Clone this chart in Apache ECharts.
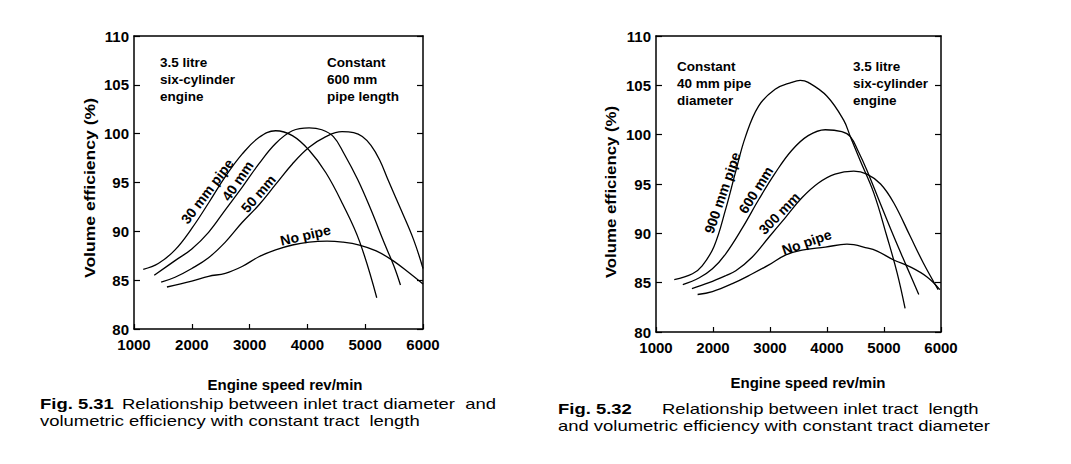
<!DOCTYPE html>
<html><head><meta charset="utf-8">
<script src="https://cdn.jsdelivr.net/npm/echarts@6/dist/echarts.min.js"></script>
<style>html,body{margin:0;padding:0;background:#fff}#c{width:1071px;height:464px}</style>
</head><body><div id="c"></div>
<script>
// ---- axis ticks ----
const xTicks = [1000, 2000, 3000, 4000, 5000, 6000];
const yTicks = [80, 85, 90, 95, 100, 105, 110];

// ---- Fig 5.31 : constant 600 mm pipe length, varying diameter ----
const rpmD30 = [1160, 1420, 1710, 2000, 2290, 2580, 2870, 3160, 3450, 3740, 4030, 4320, 4610, 4900, 5200];
const effD30 = [86.1, 86.7, 88.1, 90.3, 92.9, 95.6, 97.9, 99.6, 100.3, 99.8, 98.3, 96.0, 92.8, 89.0, 83.2];
const rpmD40 = [1350, 1710, 2000, 2290, 2580, 2870, 3160, 3450, 3740, 4030, 4250, 4450, 4630, 4870, 5100, 5330, 5500, 5610];
const effD40 = [85.5, 87.0, 88.2, 89.9, 92.2, 94.5, 96.9, 99.0, 100.3, 100.6, 100.4, 99.7, 98.0, 95.3, 92.2, 88.8, 86.4, 84.5];
const rpmD50 = [1470, 1710, 2000, 2290, 2580, 2870, 3160, 3450, 3740, 4030, 4320, 4600, 4800, 4950, 5100, 5250, 5400, 5620, 5840, 6000];
const effD50 = [84.8, 85.3, 86.2, 87.3, 88.9, 90.9, 92.7, 94.8, 96.9, 98.6, 99.7, 100.2, 100.1, 99.7, 98.8, 97.3, 95.2, 92.2, 89.1, 86.2];
const rpmDNo = [1570, 2000, 2290, 2580, 2870, 3160, 3450, 3740, 4030, 4340, 4610, 4900, 5190, 5480, 5770, 6000];
const effDNo = [84.3, 84.9, 85.4, 85.7, 86.4, 87.4, 88.1, 88.6, 88.9, 89.0, 88.9, 88.6, 88.0, 87.0, 85.7, 84.6];

// ---- Fig 5.32 : constant 40 mm pipe diameter, varying length ----
const rpmL900 = [1320, 1640, 1810, 2020, 2220, 2400, 2570, 2800, 3090, 3380, 3530, 3670, 4000, 4290, 4410, 4580, 4820, 5050, 5230, 5370];
const effL900 = [85.3, 85.9, 86.7, 88.7, 92.4, 96.3, 99.8, 102.9, 104.6, 105.3, 105.5, 105.3, 103.9, 101.5, 99.8, 97.4, 94.1, 89.7, 86.0, 82.4];
const rpmL600 = [1470, 1760, 1990, 2220, 2510, 2800, 3090, 3380, 3670, 3970, 4260, 4410, 4550, 4700, 4930, 5170, 5400, 5610];
const effL600 = [84.8, 85.5, 86.4, 87.9, 90.5, 93.4, 96.1, 98.4, 99.9, 100.5, 100.3, 99.8, 98.3, 96.4, 93.1, 89.7, 86.6, 83.8];
const rpmL300 = [1630, 1930, 2220, 2400, 2690, 2980, 3270, 3560, 3850, 4140, 4470, 4700, 4940, 5170, 5460, 5690, 5950];
const effL300 = [84.4, 85.0, 85.7, 86.2, 87.6, 89.6, 91.6, 93.6, 95.1, 96.0, 96.3, 96.0, 95.0, 93.1, 89.7, 87.0, 84.3];
const rpmLNo = [1730, 1990, 2340, 2690, 2980, 3270, 3560, 3970, 4350, 4720, 4880, 5170, 5460, 5750, 5980];
const effLNo = [83.8, 84.1, 84.9, 85.9, 86.8, 87.8, 88.3, 88.6, 88.9, 88.5, 88.2, 87.3, 86.6, 85.6, 84.3];

const FONT = '"Liberation Sans", Arial, Helvetica, sans-serif';
const chart = echarts.init(document.getElementById('c'), null, { renderer: 'svg' });

function pairs(xs, ys) { return xs.map((x, i) => [x, ys[i]]); }

const xMin = xTicks[0], xMax = xTicks[xTicks.length - 1], xInt = xTicks[1] - xTicks[0];
const yMin = yTicks[0], yMax = yTicks[yTicks.length - 1], yInt = yTicks[1] - yTicks[0];
const axLine = { show: true, lineStyle: { color: '#000', width: 1.5 } };
const plain = function (v) { return String(v); };

function xAxes(g) {
  return [
    { type: 'value', gridIndex: g, position: 'bottom', min: xMin, max: xMax, interval: xInt,
      axisLine: axLine, splitLine: { show: false },
      axisTick: { show: true, inside: true, length: 5, lineStyle: { color: '#000', width: 1.2 } },
      axisLabel: { color: '#000', fontSize: 15, fontWeight: 'bold', fontFamily: FONT, margin: 8, formatter: plain } },
    { type: 'value', gridIndex: g, position: 'top', min: xMin, max: xMax, interval: xInt,
      axisLine: axLine, splitLine: { show: false }, axisTick: { show: false }, axisLabel: { show: false } }
  ];
}
function yAxes(g) {
  return [
    { type: 'value', gridIndex: g, position: 'left', min: yMin, max: yMax, interval: yInt,
      axisLine: axLine, splitLine: { show: false },
      axisTick: { show: true, inside: true, length: 6, lineStyle: { color: '#000', width: 1.2 } },
      axisLabel: { color: '#000', fontSize: 15, fontWeight: 'bold', fontFamily: FONT, margin: 5, formatter: plain } },
    { type: 'value', gridIndex: g, position: 'right', min: yMin, max: yMax, interval: yInt,
      axisLine: axLine, splitLine: { show: false },
      axisTick: { show: true, inside: true, length: 6, lineStyle: { color: '#000', width: 1.2 } },
      axisLabel: { show: false } }
  ];
}
const seriesDefs = [
  { name: '30 mm pipe', xs: rpmD30, ys: effD30, ax: 0 },
  { name: '40 mm', xs: rpmD40, ys: effD40, ax: 0 },
  { name: '50 mm', xs: rpmD50, ys: effD50, ax: 0 },
  { name: 'No pipe', xs: rpmDNo, ys: effDNo, ax: 0 },
  { name: '900 mm pipe', xs: rpmL900, ys: effL900, ax: 2 },
  { name: '600 mm', xs: rpmL600, ys: effL600, ax: 2 },
  { name: '300 mm', xs: rpmL300, ys: effL300, ax: 2 },
  { name: 'No pipe', xs: rpmLNo, ys: effLNo, ax: 2 }
];
const series = seriesDefs.map(function (d) {
  return { type: 'line', name: d.name, data: pairs(d.xs, d.ys), xAxisIndex: d.ax, yAxisIndex: d.ax,
    smooth: 0.4, symbol: 'none', silent: true,
    lineStyle: { color: '#000', width: 1.3 } };
});

chart.setOption({
  animation: false,
  backgroundColor: '#fff',
  grid: [
    { left: 134, top: 36, width: 289, height: 293 },
    { left: 656, top: 36, width: 285, height: 296 }
  ],
  xAxis: xAxes(0).concat(xAxes(1)),
  yAxis: yAxes(0).concat(yAxes(1)),
  series: series
});

// ---- text annotations ----
function txt(x, y, text, o) {
  o = o || {};
  return { type: 'text', x: x, y: y, rotation: (o.rot || 0) * Math.PI / 180,
    scaleX: o.sx || 1, scaleY: 1, silent: true,
    style: { x: 0, y: 0, text: text, fill: '#000', fontFamily: FONT,
      fontSize: o.fs || 14, fontWeight: o.fw || 'bold', lineHeight: o.lh || 17,
      align: o.align || 'center', verticalAlign: o.va || 'middle' } };
}

// curve labels: placed beside the curve at a given engine speed, offset to the upper-left
const curveLabels = [
  { s: 0, text: '30 mm pipe', rpm: 2370, rot: 53 },
  { s: 1, text: '40 mm', rpm: 2900, rot: 56 },
  { s: 2, text: '50 mm', rpm: 3250, rot: 49 },
  { s: 3, text: 'No pipe', rpm: 3995, rot: 13 },
  { s: 4, text: '900 mm pipe', rpm: 2287, rot: 71 },
  { s: 5, text: '600 mm', rpm: 2864, rot: 58 },
  { s: 6, text: '300 mm', rpm: 3255, rot: 46 },
  { s: 7, text: 'No pipe', rpm: 3685, rot: 19 }
];
function onCurve(d, x) {
  for (let i = 1; i < d.xs.length; i++) {
    if (x <= d.xs[i]) {
      const t = (x - d.xs[i - 1]) / (d.xs[i] - d.xs[i - 1]);
      return d.ys[i - 1] + t * (d.ys[i] - d.ys[i - 1]);
    }
  }
  return d.ys[d.ys.length - 1];
}

const g = [];
const OFF = 7.5;
curveLabels.forEach(function (l) {
  const d = seriesDefs[l.s];
  const p = chart.convertToPixel({ seriesIndex: l.s }, [l.rpm, onCurve(d, l.rpm)]);
  const a = l.rot * Math.PI / 180;
  g.push(txt(p[0] - OFF * Math.sin(a), p[1] - OFF * Math.cos(a), l.text, { rot: l.rot }));
});

// corner notes
g.push(txt(160, 54, '3.5 litre\nsix-cylinder\nengine', { align: 'left', va: 'top', fs: 13.5, lh: 17 }));
g.push(txt(327, 54, 'Constant\n600 mm\npipe length', { align: 'left', va: 'top', fs: 13.5, lh: 17 }));
g.push(txt(677, 58, 'Constant\n40 mm pipe\ndiameter', { align: 'left', va: 'top', fs: 13.5, lh: 17 }));
g.push(txt(853, 58, '3.5 litre\nsix-cylinder\nengine', { align: 'left', va: 'top', fs: 13.5, lh: 17 }));

// axis names
g.push(txt(285, 384, 'Engine speed rev/min', { fs: 15 }));
g.push(txt(808, 382, 'Engine speed rev/min', { fs: 15 }));
g.push(txt(89, 188, 'Volume efficiency (%)', { fs: 15, rot: 90, sx: 1.17 }));
g.push(txt(611, 192, 'Volume efficiency (%)', { fs: 15, rot: 90, sx: 1.12 }));

// captions
const CS = 1.23;
g.push(txt(40, 404, 'Fig. 5.31', { align: 'left', fs: 15, sx: CS }));
g.push(txt(122, 404, 'Relationship between inlet tract diameter  and', { align: 'left', fs: 15, fw: 'normal', sx: CS }));
g.push(txt(40, 421, 'volumetric efficiency with constant tract  length', { align: 'left', fs: 15, fw: 'normal', sx: CS }));
g.push(txt(558, 409, 'Fig. 5.32', { align: 'left', fs: 15, sx: CS }));
g.push(txt(662, 409, 'Relationship between inlet tract  length', { align: 'left', fs: 15, fw: 'normal', sx: CS }));
g.push(txt(558, 426, 'and volumetric efficiency with constant tract diameter', { align: 'left', fs: 15, fw: 'normal', sx: CS }));

chart.setOption({ graphic: g });
</script>
</body></html>
